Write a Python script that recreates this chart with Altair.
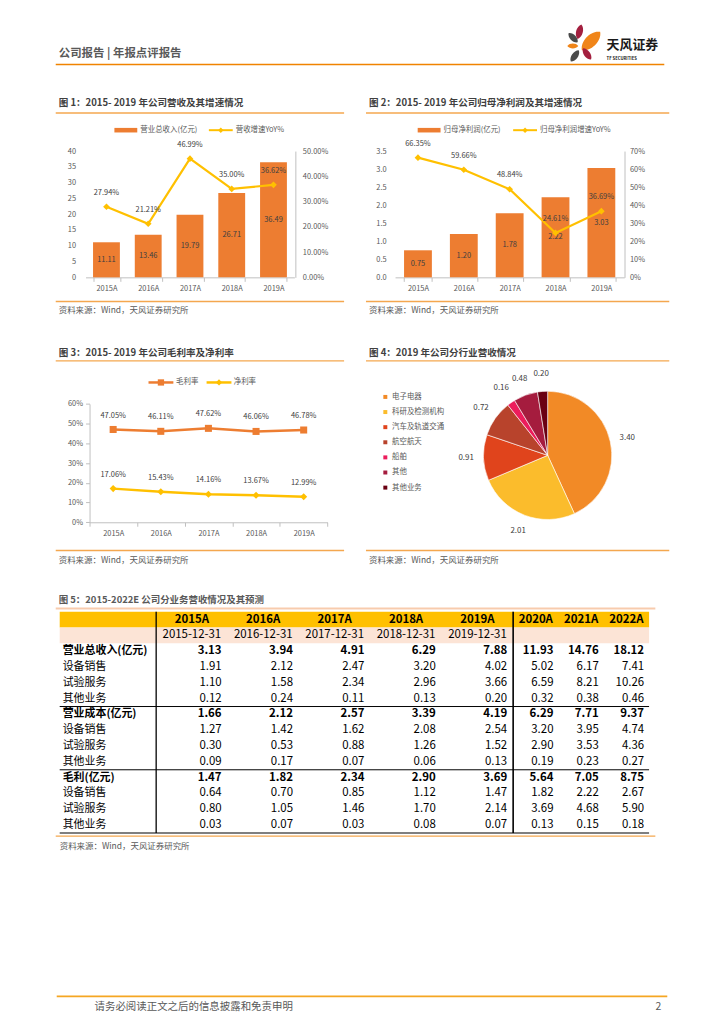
import altair as alt
import pandas as pd

FONT = "Noto Sans CJK SC"
GRAY = "#595959"
DARK = "#404040"
AXIS = "#BFBFBF"
BAR = "#ED7D31"
GOLD = "#FFC000"
RULE_OR = "#F4A74F"

# ---------------- data ----------------
years = ["2015A", "2016A", "2017A", "2018A", "2019A"]
rev = [11.11, 13.46, 19.79, 26.71, 36.49]
rev_yoy = [0.2794, 0.2121, 0.4699, 0.3500, 0.3662]
netp = [0.75, 1.20, 1.78, 2.22, 3.03]
netp_yoy = [0.6635, 0.5966, 0.4884, 0.2461, 0.3669]
gross_margin = [0.4705, 0.4611, 0.4762, 0.4606, 0.4678]
net_margin = [0.1706, 0.1543, 0.1416, 0.1367, 0.1299]
industries = ["电子电器", "科研及检测机构", "汽车及轨道交通", "航空航天", "船舶", "其他", "其他业务"]
ind_values = [3.40, 2.01, 0.91, 0.72, 0.16, 0.48, 0.20]
ind_colors = ["#F28A26", "#FBBC2C", "#E0441C", "#B8432C", "#EC1C5C", "#A51C3E", "#6A0012"]

row_labels = ["营业总收入(亿元)", "设备销售", "试验服务", "其他业务",
              "营业成本(亿元)", "设备销售", "试验服务", "其他业务",
              "毛利(亿元)", "设备销售", "试验服务", "其他业务"]
bold_rows = [0, 4, 8]
cols_a = ["2015A", "2016A", "2017A", "2018A", "2019A"]
cols_b = ["2020A", "2021A", "2022A"]
dates = ["2015-12-31", "2016-12-31", "2017-12-31", "2018-12-31", "2019-12-31"]
table_vals = {
    "2015A": [3.13, 1.91, 1.10, 0.12, 1.66, 1.27, 0.30, 0.09, 1.47, 0.64, 0.80, 0.03],
    "2016A": [3.94, 2.12, 1.58, 0.24, 2.12, 1.42, 0.53, 0.17, 1.82, 0.70, 1.05, 0.07],
    "2017A": [4.91, 2.47, 2.34, 0.11, 2.57, 1.62, 0.88, 0.07, 2.34, 0.85, 1.46, 0.03],
    "2018A": [6.29, 3.20, 2.96, 0.13, 3.39, 2.08, 1.26, 0.06, 2.90, 1.12, 1.70, 0.08],
    "2019A": [7.88, 4.02, 3.66, 0.20, 4.19, 2.54, 1.52, 0.13, 3.69, 1.47, 2.14, 0.07],
    "2020A": [11.93, 5.02, 6.59, 0.32, 6.29, 3.20, 2.90, 0.19, 5.64, 1.82, 3.69, 0.13],
    "2021A": [14.76, 6.17, 8.21, 0.38, 7.71, 3.95, 3.53, 0.23, 7.05, 2.22, 4.68, 0.15],
    "2022A": [18.12, 7.41, 10.26, 0.46, 9.37, 4.74, 4.36, 0.27, 8.75, 2.67, 5.90, 0.18],
}

ONE = pd.DataFrame({"k": [0]})


def text(s, x, y, size=7.5, color=GRAY, weight="normal", align="left"):
    return alt.Chart(ONE).mark_text(
        text=s, font=FONT, fontSize=size, color=color, fontWeight=weight,
        align=align, baseline="middle").encode(x=alt.value(x), y=alt.value(y))


def hrule(x1, x2, y, color, w=1.0):
    return alt.Chart(ONE).mark_rule(color=color, strokeWidth=w).encode(
        x=alt.value(x1), x2=alt.value(x2), y=alt.value(y))


def vrule(x, y1, y2, color, w=1.0):
    return alt.Chart(ONE).mark_rule(color=color, strokeWidth=w).encode(
        x=alt.value(x), y=alt.value(y1), y2=alt.value(y2))


def marker(shape, x, y, color, size=45):
    return alt.Chart(ONE).mark_point(shape=shape, filled=True, size=size, color=color, opacity=1).encode(
        x=alt.value(x), y=alt.value(y))


def swatch(x1, x2, y1, y2, color):
    return alt.Chart(ONE).mark_rect(color=color).encode(
        x=alt.value(x1), x2=alt.value(x2), y=alt.value(y1), y2=alt.value(y2))


def bar_line_panel(W, H, title, leg_bar, leg_line, bar_vals, yoy_vals, xrange, pin, pout,
                   ymax, yvals, yfmt, rmax, rvals, rfmt, left_off, left_pad, right_off, right_pad,
                   tx, rule_x1, rule_x2, lg):
    df = pd.DataFrame({"year": years, "v": bar_vals, "g": yoy_vals})
    xs = alt.Scale(domain=years, range=xrange, paddingInner=pin, paddingOuter=pout)
    xaxis = alt.Axis(orient="bottom", offset=-(H - 193), title=None, labelAngle=0,
                     tickBand="extent", tickSize=4, labelPadding=3)
    X = alt.X("year:N", scale=xs, axis=xaxis)
    yl = alt.Scale(domain=[0, ymax], range=[193, 66], nice=False)
    yr = alt.Scale(domain=[0, rmax], range=[193, 66], nice=False)
    base = alt.Chart(df)
    bars = base.mark_bar(color=BAR).encode(
        x=X,
        y=alt.Y("v:Q", scale=yl, axis=alt.Axis(orient="left", offset=-left_off, title=None,
                                                domain=False, ticks=False, tickSize=0,
                                                labelPadding=left_pad, values=yvals, format=yfmt)))
    blab = base.transform_calculate(mid="datum.v / 2").mark_text(
        font=FONT, fontSize=7.5, color=DARK).encode(
        x=X, y=alt.Y("mid:Q", scale=yl, axis=None),
        text=alt.Text("v:Q", format=".2f"))
    line = base.mark_line(color=GOLD, strokeWidth=2.2).encode(
        x=X,
        y=alt.Y("g:Q", scale=yr, axis=alt.Axis(orient="right", offset=-right_off, title=None,
                                                domain=True, ticks=False, tickSize=0,
                                                labelPadding=right_pad, values=rvals, format=rfmt)))
    pts = base.mark_point(shape="diamond", filled=True, size=45, color=GOLD, opacity=1).encode(
        x=X, y=alt.Y("g:Q", scale=yr, axis=None))
    glab = base.mark_text(font=FONT, fontSize=7.5, color=DARK, dy=-14).encode(
        x=X, y=alt.Y("g:Q", scale=yr, axis=None),
        text=alt.Text("g:Q", format=".2%"))
    decor = [
        text(title, tx, 17.7, size=9.6, color=DARK, weight="bold"),
        hrule(rule_x1, rule_x2, 27.7, RULE_OR, 1.3),
        swatch(lg[0], lg[0] + 23, 42.7, 47.3, BAR),
        text(leg_bar, lg[0] + 26, 45),
        hrule(lg[1], lg[1] + 24, 45, GOLD, 2),
        marker("diamond", lg[1] + 12, 45, GOLD, 30),
        text(leg_line, lg[1] + 27, 45),
        hrule(rule_x1, rule_x2, 217.3, RULE_OR, 1.3),
        text("资料来源：Wind，天风证券研究所", tx, 225.7, size=8.5, color=GRAY),
    ]
    return alt.layer(*decor, bars, blab, line, pts, glab).resolve_scale(y="independent").properties(
        width=W, height=H)


p1 = bar_line_panel(352, 245, "图 1：2015- 2019 年公司营收及其增速情况", "营业总收入(亿元)", "营收增速YoY%",
                    rev, rev_yoy, [77, 287], 0.357, 0.179, 40, list(range(0, 45, 5)), "d",
                    0.5, [0, 0.1, 0.2, 0.3, 0.4, 0.5], ".2%", 77, 10, 64, 7,
                    50, 47, 337, (106, 201))
p2 = bar_line_panel(356, 245, "图 2：2015- 2019 年公司归母净利润及其增速情况", "归母净利润(亿元)", "归母净利润增速YoY%",
                    netp, netp_yoy, [34.25, 264.75], 0.393, 0.196, 3.5,
                    [0, 0.5, 1.0, 1.5, 2.0, 2.5, 3.0, 3.5], ".1f",
                    0.7, [0, 0.1, 0.2, 0.3, 0.4, 0.5, 0.6, 0.7], ".0%", 34.25, 9, 91, 5,
                    8, 5, 310, (57, 153))

# ---------------- chart 3 ----------------
df3 = pd.DataFrame({
    "year": years * 2,
    "s": ["毛利率"] * 5 + ["净利率"] * 5,
    "v": gross_margin + net_margin,
})
xs3 = alt.Scale(domain=years, range=[80.8, 320.3], paddingInner=0, paddingOuter=0)
ys3 = alt.Scale(domain=[0, 0.6], range=[192.3, 73.3], nice=False)
X3 = alt.X("year:N", scale=xs3, axis=alt.Axis(orient="bottom", offset=-(250 - 192.3), title=None,
                                             labelAngle=0, tickBand="extent", tickSize=4, labelPadding=3))
Y3 = alt.Y("v:Q", scale=ys3, axis=alt.Axis(orient="left", offset=-81, title=None, format=".0%",
                                          values=[0, 0.1, 0.2, 0.3, 0.4, 0.5, 0.6], tickSize=4,
                                          labelPadding=3))
b3 = alt.Chart(df3)
series3 = []
for s, c, shp in [("毛利率", BAR, "square"), ("净利率", GOLD, "diamond")]:
    sub = b3.transform_filter(alt.datum.s == s)
    series3.append(sub.mark_line(color=c, strokeWidth=2.5).encode(x=X3, y=Y3))
    series3.append(sub.mark_point(shape=shp, filled=True, size=50, color=c, opacity=1).encode(x=X3, y=Y3))
t3 = b3.mark_text(font=FONT, fontSize=7.5, color=DARK, dy=-14).encode(
    x=X3, y=Y3, text=alt.Text("v:Q", format=".2%"))
p3 = alt.layer(
    text("图 3：2015- 2019 年公司毛利率及净利率", 50, 21.7, size=9.6, color=DARK, weight="bold"),
    hrule(47, 337, 30, RULE_OR, 1.3),
    hrule(140.3, 165.3, 51.7, BAR, 2.5), marker("square", 152.8, 51.7, BAR, 40), text("毛利率", 168, 51.7),
    hrule(198.7, 223.7, 51.7, GOLD, 2.5), marker("diamond", 211.2, 51.7, GOLD, 40), text("净利率", 226, 51.7),
    hrule(47, 337, 220.7, RULE_OR, 1.3),
    text("资料来源：Wind，天风证券研究所", 50, 230, size=8.5),
    *series3, t3,
).properties(width=352, height=250)

# ---------------- chart 4 ----------------
df4 = pd.DataFrame({"ind": industries, "val": ind_values, "idx": list(range(len(industries)))})
cx, cy = 187.7, 125
b4 = alt.Chart(df4)
arc = b4.mark_arc(outerRadius=64.5, stroke="white", strokeWidth=0.6).encode(
    theta=alt.Theta("val:Q", stack=True),
    order=alt.Order("idx:Q"),
    color=alt.Color("ind:N", scale=alt.Scale(domain=industries, range=ind_colors),
                    legend=alt.Legend(title=None, orient="none", legendX=20.7, legendY=62.5,
                                      symbolType="square", symbolSize=16, symbolStrokeWidth=0,
                                      labelFont=FONT, labelFontSize=7.5, labelColor=GRAY,
                                      rowPadding=6.2, labelOffset=3, padding=0)),
    x=alt.value(cx), y=alt.value(cy))
alab = b4.mark_text(radius=82, font=FONT, fontSize=8, color=DARK).encode(
    theta=alt.Theta("val:Q", stack=True),
    order=alt.Order("idx:Q"),
    text=alt.Text("val:Q", format=".2f"),
    x=alt.value(cx), y=alt.value(cy))
p4 = alt.layer(
    text("图 4：2019 年公司分行业营收情况", 8, 21.7, size=9.6, color=DARK, weight="bold"),
    hrule(5, 310, 30, RULE_OR, 1.3),
    hrule(5, 310, 220.7, RULE_OR, 1.3),
    text("资料来源：Wind，天风证券研究所", 8, 230, size=8.5),
    arc, alab,
).properties(width=356, height=250)

# ---------------- table ----------------
row_keys = ["h1", "h2"] + ["r%d" % i for i in range(len(row_labels))]
ys = alt.Scale(domain=row_keys, range=[30.2, 252.8], paddingInner=0, paddingOuter=0)
xa = alt.Scale(domain=cols_a, range=[148, 507], paddingInner=0, paddingOuter=0)
xb = alt.Scale(domain=cols_b, range=[507, 643.7], paddingInner=0, paddingOuter=0)
BAND_A = (507 - 148) / len(cols_a)
BAND_B = (643.7 - 507) / len(cols_b)

lab_df = pd.DataFrame({"row": row_keys[2:], "lab": row_labels,
                       "bold": [i in bold_rows for i in range(len(row_labels))]})
recs = []
for c in cols_a + cols_b:
    for i, v in enumerate(table_vals[c]):
        recs.append({"row": "r%d" % i, "col": c, "v": v, "bold": i in bold_rows,
                     "sec": "a" if c in cols_a else "b"})
val_df = pd.DataFrame(recs)
head_df = pd.DataFrame({"col": cols_a + cols_b, "row": "h1",
                        "sec": ["a"] * len(cols_a) + ["b"] * len(cols_b)})
date_df = pd.DataFrame({"col": cols_a, "row": "h2", "d": dates})
fill_df = pd.DataFrame({"row": ["h1", "h2"], "fill": ["#FFC000", "#FCE4D6"]})
sep_df = pd.DataFrame({"row": ["r4", "r8"]})
bot_df = pd.DataFrame({"row": ["r11"]})


def Y(**kw):
    return alt.Y("row:N", scale=ys, axis=None, **kw)


fills = alt.Chart(fill_df).mark_rect().encode(
    y=Y(), x=alt.value(51), x2=alt.value(643.7), color=alt.Color("fill:N", scale=None))


def vals_layer(sec, scale, bold):
    dx = BAND_A / 2 - 6 if sec == "a" else BAND_B / 2 - 5
    return alt.Chart(val_df).transform_filter(
        "datum.sec == '%s' && %sdatum.bold" % (sec, "" if bold else "!")).mark_text(
        align="right", dx=dx, font=FONT, fontSize=11.5, color="#000000",
        fontWeight="bold" if bold else "normal").encode(
        x=alt.X("col:N", scale=scale, axis=None), y=Y(),
        text=alt.Text("v:Q", format=".2f"))


heads_a = alt.Chart(head_df).transform_filter("datum.sec == 'a'").mark_text(
    font=FONT, fontSize=11.5, fontWeight="bold", color="#000000").encode(
    x=alt.X("col:N", scale=xa, axis=None), y=Y(), text="col:N")
heads_b = alt.Chart(head_df).transform_filter("datum.sec == 'b'").mark_text(
    font=FONT, fontSize=11.5, fontWeight="bold", color="#000000").encode(
    x=alt.X("col:N", scale=xb, axis=None), y=Y(), text="col:N")
date_t = alt.Chart(date_df).mark_text(font=FONT, fontSize=11.5, color="#000000").encode(
    x=alt.X("col:N", scale=xa, axis=None), y=Y(), text="d:N")
labs_b = alt.Chart(lab_df).transform_filter("datum.bold").mark_text(
    align="left", font=FONT, fontSize=11, fontWeight="bold", color="#000000").encode(
    x=alt.value(54), y=Y(), text="lab:N")
labs_n = alt.Chart(lab_df).transform_filter("!datum.bold").mark_text(
    align="left", font=FONT, fontSize=11, color="#000000").encode(
    x=alt.value(54), y=Y(), text="lab:N")
seps = alt.Chart(sep_df).mark_rule(color="#000000", strokeWidth=1).encode(
    y=Y(bandPosition=0), x=alt.value(51), x2=alt.value(643.7))
bot = alt.Chart(bot_df).mark_rule(color="#000000", strokeWidth=1.2).encode(
    y=Y(bandPosition=1), x=alt.value(51), x2=alt.value(643.7))

table = alt.layer(
    text("图 5：2015-2022E 公司分业务营收情况及其预测", 50, 18, size=9.5, color=GRAY, weight="bold"),
    hrule(47, 650, 27, "#F8CBAD", 2),
    fills,
    vals_layer("a", xa, True), vals_layer("a", xa, False),
    vals_layer("b", xb, True), vals_layer("b", xb, False),
    heads_a, heads_b, date_t, labs_b, labs_n, seps, bot,
    vrule(148, 30.2, 252.8, "#000000", 1.3),
    vrule(507, 30.2, 252.8, "#000000", 1.6),
    hrule(47, 650, 256, RULE_OR, 1.3),
    text("资料来源：Wind，天风证券研究所", 51, 266, size=8.5),
).resolve_scale(x="independent").properties(width=708, height=285)

# ---------------- header / footer ----------------
LEAF = "M0,-1C0.6,-0.6 0.6,0.6 0,1C-0.6,0.6 -0.6,-0.6 0,-1Z"


def leaf(x, y, length, ang, color):
    return alt.Chart(ONE).mark_point(shape=LEAF, filled=True, size=length * length, angle=ang % 360,
                                     color=color, opacity=1).encode(x=alt.value(x), y=alt.value(y))


header = alt.layer(
    text("公司报告 | 年报点评报告", 50, 42, size=11.5, color="#595959", weight="bold"),
    hrule(47, 659, 53, "#F08300", 1.6),
    leaf(573.7, 20, 15, 15, "#A31F3F"),
    leaf(567.3, 26, 13, -45, "#4A4A4A"),
    leaf(585.3, 29.3, 26, 45, "#F08519"),
    leaf(567, 34.3, 11, 90, "#F08519"),
    leaf(569, 44.3, 14, 35, "#4A4A4A"),
    leaf(581.3, 42.3, 14, -35, "#A31F3F"),
    text("天风证券", 601, 33, size=13, color="#1A1A1A", weight="bold"),
    text("TF SECURITIES", 601, 47, size=4.2, color="#1A1A1A", weight="bold"),
).properties(width=708, height=72)

footer = alt.layer(
    hrule(48, 662, 130, "#F5A623", 1.8),
    text("请务必阅读正文之后的信息披露和免责申明", 86, 141, size=10.5, color="#595959"),
    text("2", 656, 141, size=10.5, color="#595959", align="right"),
).properties(width=708, height=156)

row3 = alt.hconcat(p3, p4, spacing=0).resolve_scale(color="independent").resolve_legend(color="independent")

chart = alt.vconcat(
    header,
    alt.hconcat(p1, p2, spacing=0),
    row3,
    table,
    footer,
    spacing=0,
).resolve_scale(color="independent").resolve_legend(color="independent").properties(
    padding=0).configure_view(stroke="transparent").configure_axis(
    labelFont=FONT, labelFontSize=7.5, labelColor=GRAY, grid=False,
    domainColor=AXIS, tickColor=AXIS)

chart.save("out.html", embed_options={"renderer": "svg", "actions": False})
